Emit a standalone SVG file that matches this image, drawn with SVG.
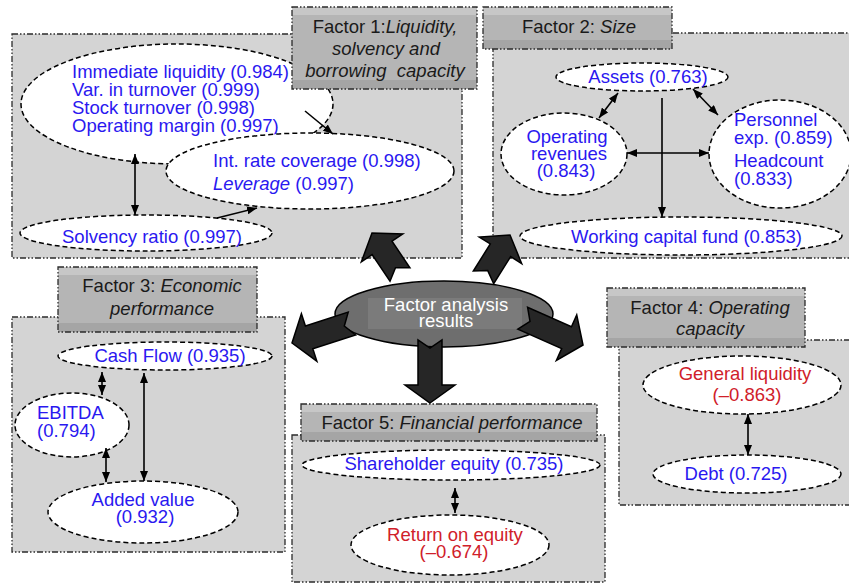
<svg xmlns="http://www.w3.org/2000/svg" width="849" height="585" viewBox="0 0 849 585">
<defs>
<style>
.panel{fill:#d4d4d4;stroke:#2b2b2b;stroke-width:1.3;stroke-dasharray:6 2 1.5 2 1.5 2}
.lb{fill:#b5b5b5}
.lt{fill:#c7c7c7}
.ld{fill:#a5a5a5}
.lbd{fill:none;stroke:#2b2b2b;stroke-width:1.3;stroke-dasharray:6 2 1.5 2 1.5 2}
.node{fill:#fff;stroke:#000;stroke-width:1.5;stroke-dasharray:5 3}
text{font-family:"Liberation Sans",Arial,Helvetica,sans-serif;font-size:18.5px}
.b{fill:#2a18f0}
.r{fill:#d0202a}
.k{fill:#1a1a1a}
.w{fill:#ffffff}
.i{font-style:italic}
.m{text-anchor:middle}
.conn line{stroke:#000;stroke-width:1.6;fill:none}
.big{fill:#262626;stroke:#000;stroke-width:1.5;stroke-linejoin:miter}
</style>
<marker id="ah" viewBox="0 0 10 8" refX="10" refY="4" markerWidth="10" markerHeight="8" markerUnits="userSpaceOnUse" orient="auto-start-reverse">
<path d="M0,0 L10,4 L0,8 Z" fill="#000"/>
</marker>
</defs>

<!-- Panels -->
<g id="panels">
<rect class="panel" x="12" y="34" width="450" height="224"/>
<rect class="panel" x="493" y="33" width="362" height="225"/>
<rect class="panel" x="12" y="317" width="273" height="235"/>
<rect class="panel" x="619" y="340" width="236" height="165"/>
<rect class="panel" x="292" y="435" width="313" height="147"/>
</g>

<!-- Factor 1 nodes -->
<g id="n-immediate">
<ellipse class="node" cx="177" cy="104" rx="156" ry="60"/>
<text class="b" x="72" y="78">Immediate liquidity (0.984)</text>
<text class="b" x="72" y="96">Var. in turnover (0.999)</text>
<text class="b" x="72" y="114">Stock turnover (0.998)</text>
<text class="b" x="72" y="132">Operating margin (0.997)</text>
</g>
<g id="n-intrate">
<ellipse class="node" cx="310" cy="171" rx="144" ry="38"/>
<text class="b" x="213" y="167">Int. rate coverage (0.998)</text>
<text class="b" x="213" y="190"><tspan class="i">Leverage</tspan> (0.997)</text>
</g>
<g id="n-solvency">
<ellipse class="node" cx="146" cy="233" rx="126" ry="18"/>
<text class="b" x="62" y="243">Solvency ratio (0.997)</text>
</g>

<!-- Factor 2 nodes -->
<g id="n-assets">
<ellipse class="node" cx="642" cy="77" rx="86" ry="14"/>
<text class="b m" x="648" y="83">Assets (0.763)</text>
</g>
<g id="n-oprev">
<ellipse class="node" cx="564" cy="154" rx="63" ry="41"/>
<text class="b m" x="567" y="143">Operating</text>
<text class="b m" x="569" y="160">revenues</text>
<text class="b m" x="566" y="177">(0.843)</text>
</g>
<g id="n-personnel">
<ellipse class="node" cx="780" cy="154" rx="71" ry="54"/>
<text class="b" x="734" y="126">Personnel</text>
<text class="b" x="734" y="144">exp. (0.859)</text>
<text class="b" x="734" y="167">Headcount</text>
<text class="b" x="734" y="185">(0.833)</text>
</g>
<g id="n-wcf">
<ellipse class="node" cx="681" cy="236" rx="161" ry="19"/>
<text class="b" x="571" y="243">Working capital fund (0.853)</text>
</g>

<!-- Factor 3 nodes -->
<g id="n-cashflow">
<ellipse class="node" cx="165" cy="356" rx="107" ry="14"/>
<text class="b m" x="170" y="362">Cash Flow (0.935)</text>
</g>
<g id="n-ebitda">
<ellipse class="node" cx="72" cy="425" rx="57" ry="32"/>
<text class="b" x="37" y="419">EBITDA</text>
<text class="b" x="37" y="437">(0.794)</text>
</g>
<g id="n-added">
<ellipse class="node" cx="143" cy="512" rx="95" ry="31"/>
<text class="b m" x="143" y="506">Added value</text>
<text class="b m" x="145" y="523">(0.932)</text>
</g>

<!-- Factor 5 nodes -->
<g id="n-shareholder">
<ellipse class="node" cx="451" cy="465" rx="149" ry="15"/>
<text class="b m" x="454" y="470">Shareholder equity (0.735)</text>
</g>
<g id="n-roe">
<ellipse class="node" cx="450" cy="545" rx="99" ry="30"/>
<text class="r m" x="455" y="541">Return on equity</text>
<text class="r m" x="454" y="558">(–0.674)</text>
</g>

<!-- Factor 4 nodes -->
<g id="n-genliq">
<ellipse class="node" cx="742" cy="385" rx="99" ry="29"/>
<text class="r m" x="745" y="380">General liquidity</text>
<text class="r m" x="747" y="401">(–0.863)</text>
</g>
<g id="n-debt">
<ellipse class="node" cx="747" cy="474" rx="94" ry="19"/>
<text class="b m" x="736" y="480">Debt (0.725)</text>
</g>

<!-- Factor labels -->
<g id="f1-label">
<rect class="lb" x="292" y="7" width="185" height="82"/>
<rect class="lt" x="292" y="7" width="185" height="8"/>
<rect class="ld" x="292" y="80" width="185" height="9"/>
<rect class="lbd" x="292" y="7" width="185" height="82"/>
<text class="k m" x="385" y="33">Factor 1:<tspan class="i">Liquidity,</tspan></text>
<text class="k m i" x="386" y="55">solvency and</text>
<text class="k m i" x="385" y="77" xml:space="preserve">borrowing  capacity</text>
</g>
<g id="f2-label">
<rect class="lb" x="483" y="7" width="189" height="42"/>
<rect class="lt" x="483" y="7" width="189" height="8"/>
<rect class="ld" x="483" y="40" width="189" height="9"/>
<rect class="lbd" x="483" y="7" width="189" height="42"/>
<text class="k m" x="579" y="33">Factor 2: <tspan class="i">Size</tspan></text>
</g>
<g id="f3-label">
<rect class="lb" x="58" y="267" width="199" height="65"/>
<rect class="lt" x="58" y="267" width="199" height="8"/>
<rect class="ld" x="58" y="323" width="199" height="9"/>
<rect class="lbd" x="58" y="267" width="199" height="65"/>
<text class="k m" x="162" y="292">Factor 3: <tspan class="i">Economic</tspan></text>
<text class="k m i" x="162" y="315">performance</text>
</g>
<g id="f4-label">
<rect class="lb" x="607" y="288" width="198" height="59"/>
<rect class="lt" x="607" y="288" width="198" height="8"/>
<rect class="ld" x="607" y="338" width="198" height="9"/>
<rect class="lbd" x="607" y="288" width="198" height="59"/>
<text class="k m" x="710" y="314">Factor 4: <tspan class="i">Operating</tspan></text>
<text class="k m i" x="710" y="335">capacity</text>
</g>
<g id="f5-label">
<rect class="lb" x="301" y="404" width="296" height="37"/>
<rect class="lt" x="301" y="404" width="296" height="8"/>
<rect class="ld" x="301" y="432" width="296" height="9"/>
<rect class="lbd" x="301" y="404" width="296" height="37"/>
<text class="k m" x="452" y="429">Factor 5: <tspan class="i">Financial performance</tspan></text>
</g>

<!-- Connectors -->
<g id="connectors" class="conn">
<line x1="135" y1="154" x2="135" y2="215" marker-start="url(#ah)" marker-end="url(#ah)"/>
<line x1="305" y1="111" x2="333" y2="134" marker-end="url(#ah)"/>
<line x1="217" y1="218" x2="257" y2="208" marker-end="url(#ah)"/>
<line x1="618" y1="93" x2="599" y2="118" marker-start="url(#ah)" marker-end="url(#ah)"/>
<line x1="693" y1="89" x2="718" y2="115" marker-start="url(#ah)" marker-end="url(#ah)"/>
<line x1="627" y1="153" x2="709" y2="153" marker-start="url(#ah)" marker-end="url(#ah)"/>
<line x1="662" y1="98" x2="662" y2="217" marker-end="url(#ah)"/>
<line x1="102" y1="372" x2="102" y2="395" marker-start="url(#ah)" marker-end="url(#ah)"/>
<line x1="106" y1="448" x2="106" y2="482" marker-start="url(#ah)" marker-end="url(#ah)"/>
<line x1="144" y1="373" x2="144" y2="481" marker-start="url(#ah)" marker-end="url(#ah)"/>
<line x1="455" y1="488" x2="455" y2="513" marker-start="url(#ah)" marker-end="url(#ah)"/>
<line x1="748" y1="414" x2="748" y2="455" marker-start="url(#ah)" marker-end="url(#ah)"/>
</g>

<!-- Central node -->
<g id="n-center">
<ellipse cx="444" cy="314" rx="109" ry="33" fill="#6e6e6e" stroke="#000" stroke-width="1.5"/>
<rect x="368" y="298" width="154" height="31" fill="#7b7b7b"/>
<text class="w m" x="446" y="311">Factor analysis</text>
<text class="w m" x="446" y="327">results</text>
</g>

<!-- Block arrows from centre -->
<g id="block-arrows">
<path class="big" transform="translate(372,233) rotate(-124)" d="M0,0 L-18,-25 L-18,-12 L-50,-12 L-42,0 L-50,12 L-18,12 L-18,25 Z"/>
<path class="big" transform="translate(510,235) rotate(-58)" d="M0,0 L-18,-25 L-18,-12 L-50,-12 L-42,0 L-50,12 L-18,12 L-18,25 Z"/>
<path class="big" transform="translate(292,343) rotate(162)" d="M0,0 L-18,-25 L-18,-12 L-63,-12 L-55,0 L-63,12 L-18,12 L-18,25 Z"/>
<path class="big" transform="translate(583,345) rotate(24)" d="M0,0 L-18,-25 L-18,-12 L-66,-12 L-58,0 L-66,12 L-18,12 L-18,25 Z"/>
<path class="big" transform="translate(430,403) rotate(90)" d="M0,0 L-18,-25 L-18,-12 L-63,-12 L-55,0 L-63,12 L-18,12 L-18,25 Z"/>
</g>
</svg>
